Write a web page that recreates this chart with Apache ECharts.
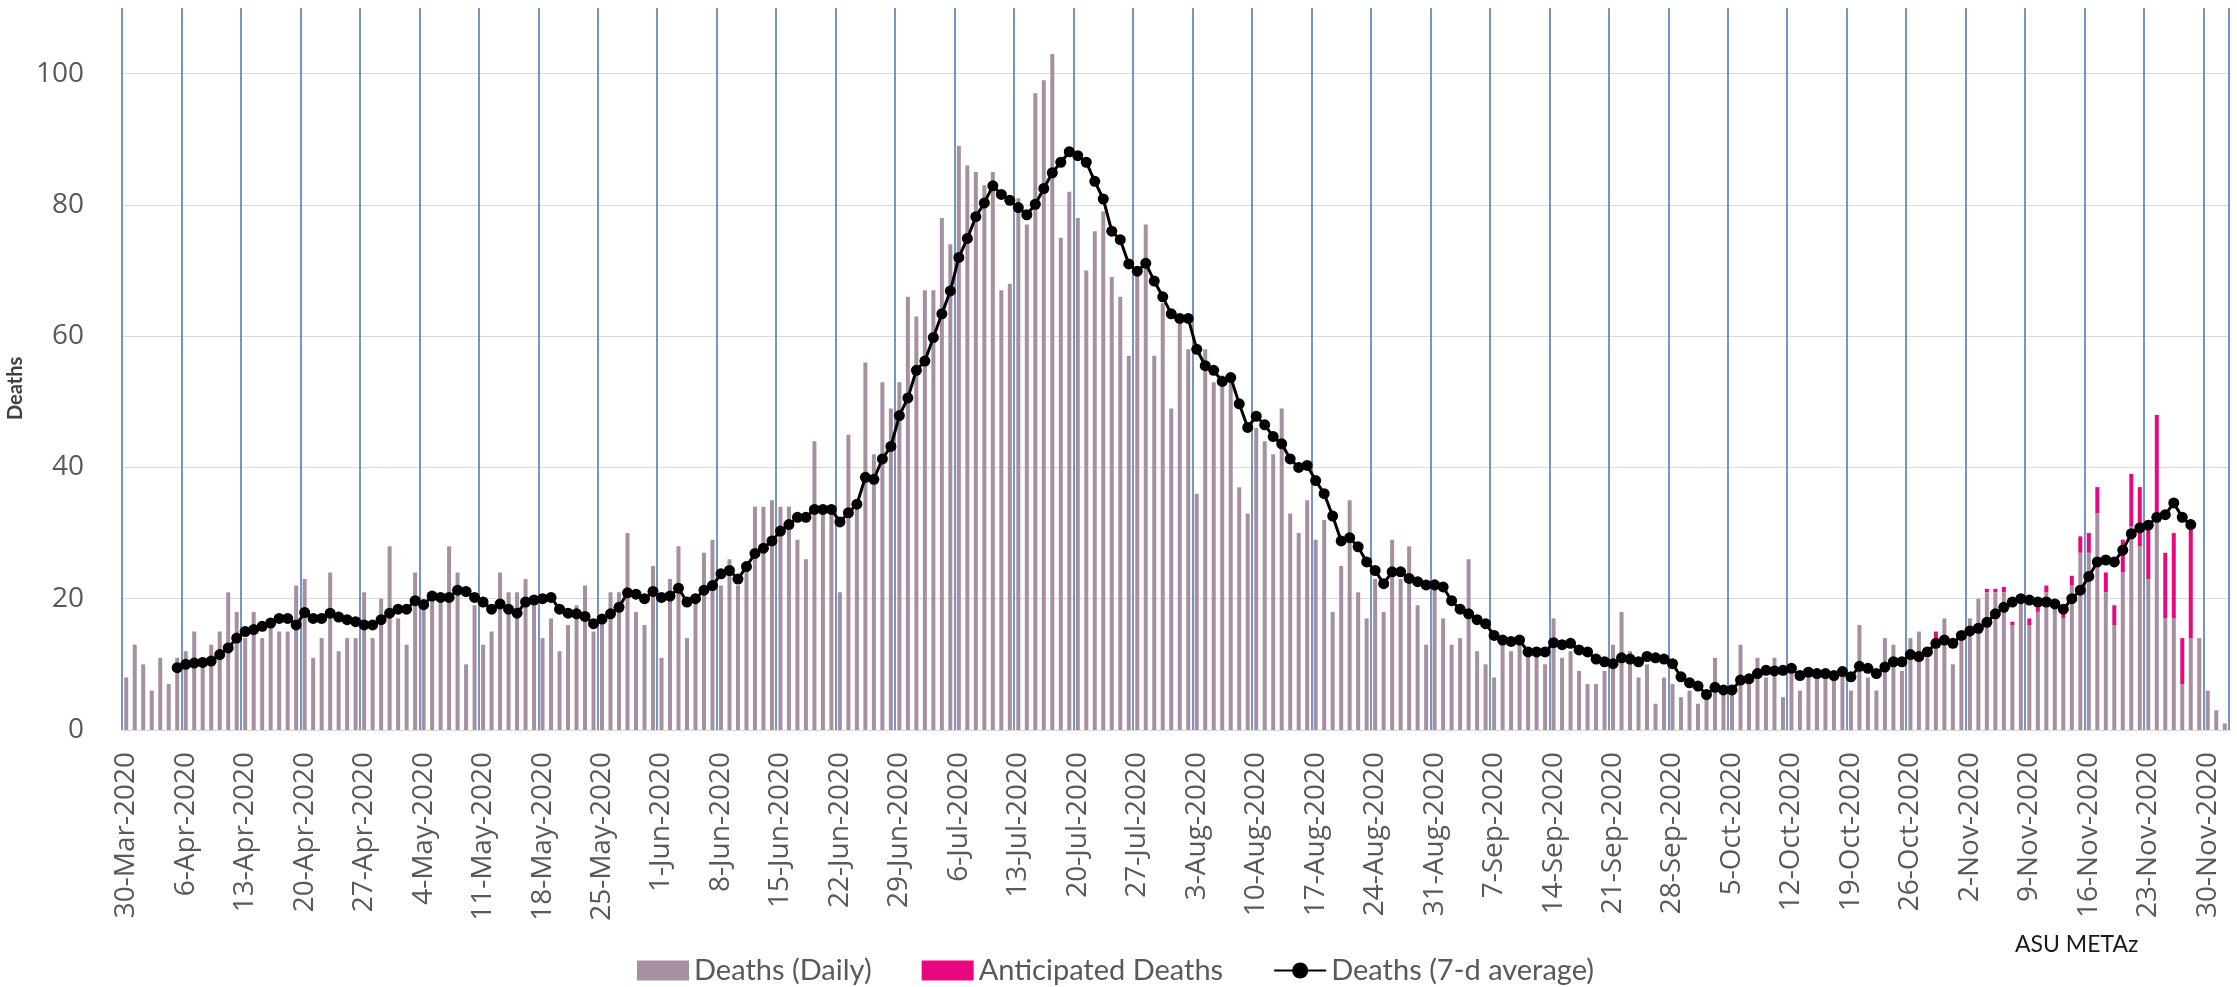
<!DOCTYPE html>
<html lang="en">
<head>
	<meta charset="UTF-8">
	<title>Deaths</title>
	<script src="https://cdn.jsdelivr.net/npm/echarts@6/dist/echarts.min.js"></script>
	<style>
		html, body { margin: 0; padding: 0; background: #fff; }
	</style>
</head>
<body>
	<div id="main" style="width: 2237px;height:987px;"></div>
	<script type="text/javascript">
		// daily deaths, one value per day from 30-Mar-2020
		var firstDay = '2020-03-30';
		var dailyDeaths = [
			8, 13, 10, 6, 11, 7, 11,
			12, 15, 10, 13, 15, 21, 18,
			14, 18, 14, 17, 15, 15, 22,
			23, 11, 14, 24, 12, 14, 14,
			21, 14, 20, 28, 17, 13, 24,
			20, 20, 20, 28, 24, 10, 19,
			13, 15, 24, 21, 21, 23, 19,
			14, 17, 12, 16, 19, 22, 15,
			17, 21, 21, 30, 18, 16, 25,
			11, 23, 28, 14, 20, 27, 29,
			22, 26, 22, 25, 34, 34, 35,
			34, 34, 29, 26, 44, 34, 33,
			21, 45, 34, 56, 42, 53, 49,
			53, 66, 63, 67, 67, 78, 74,
			89, 86, 85, 83, 85, 67, 68,
			81, 77, 97, 99, 103, 75, 82,
			78, 70, 76, 79, 69, 66, 57,
			70, 77, 57, 65, 49, 62, 58,
			36, 58, 53, 54, 54, 37, 33,
			46, 44, 42, 49, 33, 30, 35,
			29, 32, 18, 25, 35, 21, 17,
			23, 18, 29, 23, 28, 19, 13,
			23, 17, 13, 14, 26, 12, 10,
			8, 13, 12, 13, 12, 12, 10,
			17, 11, 12, 9, 7, 7, 9,
			13, 18, 12, 8, 10, 4, 8,
			7, 5, 6, 4, 6, 11, 6,
			6, 13, 7, 11, 8, 11, 5,
			9, 6, 8, 8, 8, 8, 9,
			6, 16, 8, 6, 14, 13, 9,
			14, 15, 11, 14, 17, 10, 14,
			17, 20, 21, 21, 21, 16, 20,
			16, 18, 21, 19, 17, 22, 27,
			27, 33, 21, 16, 24, 31, 28,
			23, 33, 17, 17, 7, 14, 14,
			6, 3, 1
		];

		// anticipated deaths stacked on top, from 29-Oct-2020
		var anticipatedFrom = '29-Oct-2020';
		var anticipatedDeaths = [
			1, 0, 0, 0, 0, 0, 0.5, 0.5, 0.8, 0.5, 0,
			1, 0.7, 1, 0, 1, 1.5, 2.5, 3, 4, 3, 3,
			5, 8, 9, 9, 15, 10, 13, 7, 17
		];

		// 7-day average, from 5-Apr-2020
		var avgFrom = '5-Apr-2020';
		var avgDeaths = [
			9.5, 10, 10.2, 10.3, 10.5, 11.5, 12.5, 14, 15, 15.3,
			15.8, 16.3, 17, 17, 16, 17.9, 17, 17, 17.8, 17.2,
			16.8, 16.5, 16, 16, 16.8, 17.8, 18.4, 18.4, 19.7, 19.1,
			20.4, 20.2, 20.2, 21.3, 21.1, 20.2, 19.5, 18.4, 19.2, 18.4,
			17.8, 19.5, 19.8, 20, 20.2, 18.4, 17.8, 17.7, 17.3, 16.2,
			16.9, 17.7, 18.7, 20.9, 20.7, 20, 21.1, 20.2, 20.4, 21.6,
			19.5, 20, 21.3, 22, 23.8, 24.3, 23, 24.9, 26.9, 27.7,
			28.8, 30.3, 31.3, 32.4, 32.4, 33.6, 33.6, 33.6, 31.7, 33.1,
			34.4, 38.5, 38.2, 41.3, 43.2, 47.9, 50.6, 54.8, 56.2, 59.8,
			63.4, 66.9, 72, 74.9, 78.2, 80.3, 82.9, 81.6, 80.7, 79.6,
			78.5, 80.1, 82.5, 84.9, 86.5, 88.1, 87.5, 86.5, 83.6, 80.9,
			76, 74.7, 71, 69.9, 71.1, 68.4, 66, 63.4, 62.7, 62.7,
			58, 55.5, 54.8, 53.1, 53.7, 49.7, 46.1, 47.8, 46.5, 44.7,
			43.6, 41.3, 40, 40.3, 38, 36, 32.6, 28.8, 29.3, 27.9,
			25.6, 24.3, 22.3, 24.1, 24.1, 23.1, 22.6, 22.1, 22.1, 21.8,
			19.7, 18.4, 17.7, 16.8, 16.2, 14.4, 13.7, 13.5, 13.7, 11.9,
			11.9, 11.9, 13.3, 13, 13.2, 12.2, 11.9, 10.8, 10.4, 10.1,
			11, 10.8, 10.4, 11.2, 11, 10.8, 10.1, 8.1, 7.2, 6.7,
			5.4, 6.5, 6.1, 6.1, 7.6, 7.8, 8.6, 9.1, 9, 9.1,
			9.4, 8.3, 8.8, 8.6, 8.6, 8.3, 8.9, 8.1, 9.7, 9.4,
			8.6, 9.6, 10.4, 10.4, 11.5, 11.2, 11.9, 13.2, 13.7, 13.2,
			14.4, 15.1, 15.5, 16.4, 17.7, 18.7, 19.5, 20, 19.8, 19.5,
			19.5, 19.2, 18.4, 20, 21.3, 23.4, 25.6, 25.9, 25.6, 27.4,
			29.9, 30.8, 31.2, 32.4, 32.8, 34.6, 32.4, 31.3
		];

		var monthNames = ['Jan', 'Feb', 'Mar', 'Apr', 'May', 'Jun', 'Jul', 'Aug', 'Sep', 'Oct', 'Nov', 'Dec'];

		// day labels like 30-Mar-2020
		var days = [];
		var t0 = +echarts.number.parseDate(firstDay);
		for (var i = 0; i < dailyDeaths.length; i++) {
			var d = new Date(t0 + i * 24 * 3600 * 1000);
			days.push(d.getDate() + '-' + monthNames[d.getMonth()] + '-' + d.getFullYear());
		}

		function alignTo(from, values) {
			var out = [];
			var k = days.indexOf(from);
			for (var i = 0; i < days.length; i++) {
				var v = values[i - k];
				out.push(i >= k && v !== undefined ? v : '-');
			}
			return out;
		}

		var myChart = echarts.init(document.getElementById('main'));

		var option = {
			backgroundColor: '#ffffff',
			animation: false,
			textStyle: {
				fontFamily: 'Open Sans'
			},
			grid: {
				left: 122,
				right: 8,
				top: 8,
				bottom: 257
			},
			legend: {
				left: 632,
				top: 951,
				itemGap: 50,
				itemWidth: 52,
				itemHeight: 20,
				textStyle: {
					fontFamily: 'Lato',
					fontSize: 29,
					color: '#595959'
				},
				data: [
					{name: 'Deaths (Daily)', icon: 'rect'},
					{name: 'Anticipated Deaths', icon: 'rect'},
					{name: 'Deaths (7-d average)'}
				]
			},
			graphic: [
				{
					type: 'text',
					left: 2015,
					top: 933,
					style: {
						text: 'ASU METAz',
						fontFamily: 'Lato',
						fontSize: 23,
						fill: '#1a1a1a'
					}
				},
				{
					type: 'text',
					x: 6,
					y: 420,
					rotation: Math.PI / 2,
					style: {
						text: 'Deaths',
						fontFamily: 'Lato',
						fontSize: 20,
						fontWeight: 'bold',
						fill: '#404040'
					}
				}
			],
			xAxis: {
				type: 'category',
				data: days,
				boundaryGap: true,
				axisLine: {
					lineStyle: {color: '#d9d9d9', width: 1}
				},
				axisTick: {
					interval: 6,
					length: 8,
					lineStyle: {color: '#a9bcd8'}
				},
				splitLine: {
					show: true,
					interval: 6,
					lineStyle: {color: '#4a72b0', width: 1.5}
				},
				axisLabel: {
					interval: 6,
					rotate: 90,
					margin: 22,
					fontSize: 28,
					color: '#595959'
				}
			},
			yAxis: {
				type: 'value',
				min: 0,
				max: 110,
				interval: 20,
				axisLine: {show: false},
				axisTick: {show: false},
				splitLine: {
					showMaxLine: false,
					lineStyle: {color: '#d9d9d9', width: 1}
				},
				axisLabel: {
					showMaxLabel: false,
					margin: 38,
					fontSize: 28,
					color: '#595959'
				}
			},
			series: [
				{
					name: 'Deaths (Daily)',
					type: 'bar',
					stack: 'deaths',
					barWidth: 4,
					itemStyle: {color: '#a68fa0'},
					data: dailyDeaths
				},
				{
					name: 'Anticipated Deaths',
					type: 'bar',
					stack: 'deaths',
					barWidth: 4,
					itemStyle: {color: '#e8077f'},
					data: alignTo(anticipatedFrom, anticipatedDeaths)
				},
				{
					name: 'Deaths (7-d average)',
					type: 'line',
					symbol: 'circle',
					symbolSize: 11,
					showAllSymbol: true,
					itemStyle: {color: '#000000'},
					lineStyle: {color: '#000000', width: 3},
					data: alignTo(avgFrom, avgDeaths),
					z: 5
				}
			]
		};

		myChart.setOption(option);
	</script>
</body>
</html>
